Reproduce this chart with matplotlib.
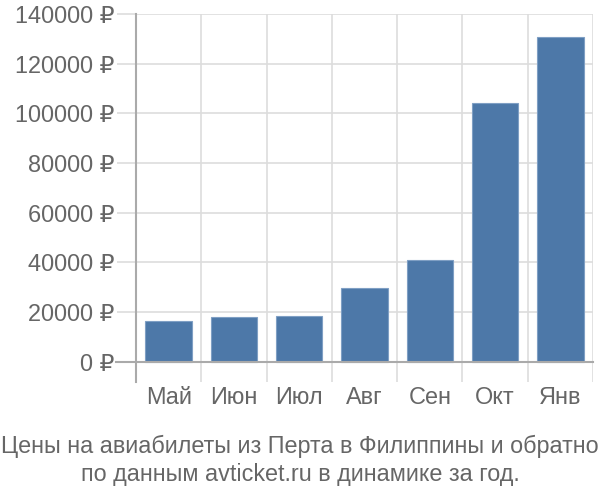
import matplotlib
matplotlib.use("Agg")
import matplotlib.pyplot as plt

months = ["Май", "Июн", "Июл", "Авг", "Сен", "Окт", "Янв"]
prices = [16600, 18000, 18600, 29900, 40800, 104200, 130800]
yticks = [0, 20000, 40000, 60000, 80000, 100000, 120000, 140000]

plt.rcParams["font.family"] = ["Liberation Sans", "DejaVu Sans"]
grey = "#666666"

fig = plt.figure(figsize=(6, 5), dpi=100)
ax = fig.add_axes([0.2267, 0.2366, 0.7616, 0.7354])

x = list(range(len(months)))
ax.bar(x, prices, width=0.71, color="#4d78a8", edgecolor="#7f9fc4", linewidth=0.8, zorder=3)

ax.set_xlim(-0.5, len(months) - 0.5)
ax.set_ylim(-8000, 140000)
ax.set_yticks(yticks)
ax.set_yticklabels([f"{v} ₽" for v in yticks])
ax.set_xticks(x)
ax.set_xticklabels(months)

# vertical grid at category boundaries
for b in range(1, len(months) + 1):
    ax.axvline(b - 0.5, color="#dddddd", linewidth=1.2, zorder=1)
for v in yticks[1:]:
    ax.axhline(v, color="#dddddd", linewidth=1.2, zorder=1)
ax.axhline(0, xmin=-0.044, color="#aaaaaa", linewidth=1.5, zorder=4, clip_on=False)

for s in ["top", "right", "bottom"]:
    ax.spines[s].set_visible(False)
ax.spines["left"].set_color("#aaaaaa")
ax.spines["left"].set_linewidth(1.5)

ax.tick_params(axis="y", colors="#dddddd", labelcolor=grey, labelsize=16.9, length=14, width=1.2, pad=1.5)
ax.tick_params(axis="x", length=0, labelcolor=grey, labelsize=16.9, pad=3)

fig.text(0.5, 0.079, "Цены на авиабилеты из Перта в Филиппины и обратно\nпо данным avticket.ru в динамике за год.",
         ha="center", va="center", color=grey, fontsize=16.8, linespacing=1.25)

fig.savefig("out.png", dpi=100)
